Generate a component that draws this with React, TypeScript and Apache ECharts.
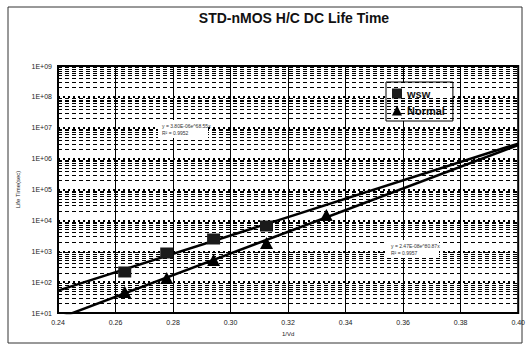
import React, { useEffect, useRef } from "react";
import * as echarts from "echarts";

const TITLE = "STD-nMOS H/C DC Life Time";
const X_NAME = "1/Vd";
const Y_NAME = "Life Time(sec)";
const X_MIN = 0.24;
const X_MAX = 0.4;
const X_STEP = 0.02;
const Y_MIN = 10;
const Y_MAX = 1e9;

// 1/Vd for Vd = 3.8, 3.6, 3.4, 3.2, 3.0 V
const wswX = [0.2632, 0.2778, 0.2941, 0.3125];
const wswY = [213, 878, 2494, 6575];
const normalX = [0.2632, 0.2778, 0.2941, 0.3125, 0.3333];
const normalY = [48, 136, 521, 1849, 14930];

const wswEq = ["y = 3.80E-06e^68.55x", "R² = 0.9952"];
const normalEq = ["y = 2.47E-08e^80.87x", "R² = 0.9957"];

function expFit(xs: number[], ys: number[]) {
  const ly = ys.map((v) => Math.log10(v));
  const n = xs.length;
  const mx = xs.reduce((a, b) => a + b, 0) / n;
  const my = ly.reduce((a, b) => a + b, 0) / n;
  let sxx = 0;
  let sxy = 0;
  for (let i = 0; i < n; i++) {
    sxx += (xs[i] - mx) * (xs[i] - mx);
    sxy += (xs[i] - mx) * (ly[i] - my);
  }
  const slope = sxy / sxx;
  const icpt = my - slope * mx;
  return (x: number) => Math.pow(10, icpt + slope * x);
}

export default function App() {
  const ref = useRef<HTMLDivElement>(null);
  useEffect(() => {
    if (!ref.current) return;
    const chart = echarts.init(ref.current, null, { renderer: "svg" });
    const fW = expFit(wswX, wswY);
    const fN = expFit(normalX, normalY);
    const trendW = [X_MIN, X_MAX].map((x) => [x, fW(x)]);
    const trendN = [X_MIN, X_MAX].map((x) => [x, fN(x)]);

    const minorLines: any[] = [];
    for (let e = Math.log10(Y_MIN); e < Math.log10(Y_MAX); e++) {
      for (let k = 2; k <= 9; k++) minorLines.push({ yAxis: k * Math.pow(10, e) });
    }

    const font = "Liberation Sans, Arial, sans-serif";
    const fmtExp = (v: number) => {
      const e = Math.round(Math.log10(v));
      return "1E+" + String(e).padStart(2, "0");
    };

    chart.setOption({
      animation: false,
      backgroundColor: "#fff",
      title: {
        text: TITLE,
        left: 289,
        textAlign: "center",
        top: 6,
        textStyle: { fontSize: 14, fontWeight: "bold", color: "#111", fontFamily: font },
      },
      legend: {
        orient: "vertical",
        left: 386,
        top: 82,
        backgroundColor: "#fff",
        borderColor: "#000",
        borderWidth: 1,
        padding: [6, 8, 5, 6],
        itemGap: 6,
        itemWidth: 10,
        itemHeight: 10,
        textStyle: { fontSize: 11, fontWeight: "bold", color: "#111", fontFamily: font },
        data: [
          { name: "wsw", icon: "rect" },
          { name: "Normal", icon: "triangle" },
        ],
      },
      grid: {
        left: 58,
        right: 8,
        top: 66,
        bottom: 37,
        show: true,
        borderColor: "#000",
        borderWidth: 2,
      },
      xAxis: {
        type: "value",
        min: X_MIN,
        max: X_MAX,
        interval: X_STEP,
        name: X_NAME,
        nameLocation: "middle",
        nameGap: 15,
        nameTextStyle: { fontSize: 6, color: "#222", fontFamily: font },
        axisLine: { show: false },
        axisTick: { show: false },
        axisLabel: {
          fontSize: 7,
          color: "#222",
          margin: 6,
          fontFamily: font,
          formatter: (v: number) => v.toFixed(2),
        },
        splitLine: { show: true, lineStyle: { color: "#000", width: 1 } },
      },
      yAxis: {
        type: "log",
        logBase: 10,
        min: Y_MIN,
        max: Y_MAX,
        name: Y_NAME,
        nameLocation: "middle",
        nameGap: 33,
        nameRotate: 90,
        nameTextStyle: { fontSize: 6, color: "#222", fontFamily: font },
        axisLine: { show: false },
        axisTick: { show: false },
        axisLabel: { fontSize: 7, color: "#222", margin: 6, fontFamily: font, formatter: fmtExp },
        splitLine: { show: true, lineStyle: { color: "#000", width: 2, type: [2, 3] } },
      },
      graphic: [
        {
          type: "rect",
          shape: { x: 8, y: 7, width: 514, height: 336 },
          style: { fill: "none", stroke: "#333", lineWidth: 1 },
          silent: true,
        },
        {
          type: "rect",
          shape: { x: 158, y: 120, width: 50, height: 18 },
          style: { fill: "#fff" },
          silent: true,
          z: 10,
        },
        {
          type: "text",
          x: 162,
          y: 122,
          z: 11,
          style: { text: wswEq.join("\n"), fontSize: 5, lineHeight: 7, fill: "#333", fontFamily: font },
          silent: true,
        },
        {
          type: "rect",
          shape: { x: 387, y: 240, width: 52, height: 18 },
          style: { fill: "#fff" },
          silent: true,
          z: 10,
        },
        {
          type: "text",
          x: 391,
          y: 242,
          z: 11,
          style: { text: normalEq.join("\n"), fontSize: 5, lineHeight: 7, fill: "#333", fontFamily: font },
          silent: true,
        },
      ],
      series: [
        {
          name: "minor",
          type: "line",
          data: [],
          silent: true,
          markLine: {
            silent: true,
            symbol: "none",
            label: { show: false },
            lineStyle: { color: "#000", width: 1.2, type: [4, 3] },
            data: minorLines,
          },
        },
        {
          name: "wswTrend",
          type: "line",
          data: trendW,
          symbol: "none",
          clip: true,
          lineStyle: { color: "#000", width: 2.5 },
          z: 5,
        },
        {
          name: "normalTrend",
          type: "line",
          data: trendN,
          symbol: "none",
          clip: true,
          lineStyle: { color: "#000", width: 2.5 },
          z: 5,
        },
        {
          name: "wsw",
          type: "scatter",
          data: wswX.map((x, i) => [x, wswY[i]]),
          symbol: "rect",
          symbolSize: [13, 11],
          itemStyle: { color: "#1a1a1a", opacity: 1 },
          z: 6,
        },
        {
          name: "Normal",
          type: "scatter",
          data: normalX.map((x, i) => [x, normalY[i]]),
          symbol: "triangle",
          symbolSize: [13, 12],
          itemStyle: { color: "#000", opacity: 1 },
          z: 6,
        },
      ],
    });
    return () => chart.dispose();
  }, []);
  return (
    <div
      ref={ref}
      style={{ position: "fixed", left: 0, top: 0, width: 528, height: 350, background: "#fff" }}
    />
  );
}
